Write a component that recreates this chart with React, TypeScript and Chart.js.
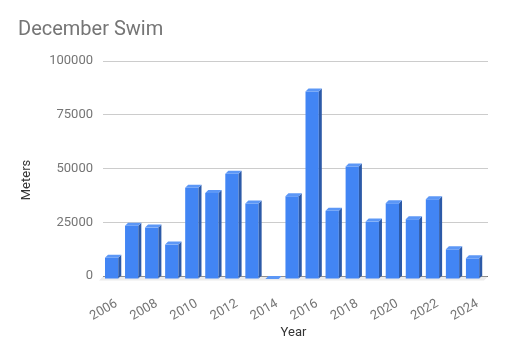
import { useEffect, useRef } from 'react';
import { Chart, registerables } from 'chart.js';

Chart.register(...registerables);

const chartTitle = 'December Swim';
const xAxisTitle = 'Year';
const yAxisTitle = 'Meters';
const years = ['2006', '2007', '2008', '2009', '2010', '2011', '2012', '2013', '2014', '2015', '2016', '2017', '2018', '2019', '2020', '2021', '2022', '2023', '2024'];
const meters = [9900, 24800, 23900, 16000, 42400, 40000, 48900, 35100, 0, 38500, 87200, 31800, 52300, 26700, 35200, 27800, 37100, 13800, 9600];
const yTickValues = [0, 25000, 50000, 75000, 100000];

const FRONT = '#4285f4';
const SIDE = '#2c5aa8';
const TOP = '#5c97f6';
const DEPTH = 3;
const SHIFT_X = -1.4;
const SHIFT_Y = 3;
const GRID_EXTRA = 4;

const alignPx = (p: number) => Math.round(p - 0.5) + 0.5;

const bar3d = {
  id: 'bar3d',
  beforeDatasetsDraw(chart: any) {
    const { ctx, chartArea } = chart;
    const yScale = chart.scales.y;
    ctx.save();
    // extend the horizontal grid lines to the back wall's right edge
    ctx.lineWidth = 1;
    yTickValues.forEach((v) => {
      const py = alignPx(yScale.getPixelForValue(v));
      ctx.strokeStyle = v === 0 ? '#333333' : '#cccccc';
      ctx.beginPath();
      ctx.moveTo(chartArea.right, py);
      ctx.lineTo(chartArea.right + GRID_EXTRA, py);
      ctx.stroke();
    });
    // floor shadow
    ctx.fillStyle = '#ececec';
    ctx.beginPath();
    ctx.moveTo(chartArea.left, chartArea.bottom + 0.5);
    ctx.lineTo(chartArea.right + GRID_EXTRA, chartArea.bottom + 0.5);
    ctx.lineTo(chartArea.right + GRID_EXTRA - 4, chartArea.bottom + 4.5);
    ctx.lineTo(chartArea.left - 4, chartArea.bottom + 4.5);
    ctx.closePath();
    ctx.fill();
    ctx.restore();
    ctx.save();
    ctx.translate(SHIFT_X, SHIFT_Y);
  },
  afterDatasetsDraw(chart: any) {
    const { ctx } = chart;
    const meta = chart.getDatasetMeta(0);
    meta.data.forEach((el: any) => {
      const { x, y, base, width } = el.getProps(['x', 'y', 'base', 'width'], true);
      const l = x - width / 2;
      const r = x + width / 2;
      ctx.fillStyle = SIDE;
      ctx.beginPath();
      ctx.moveTo(r, y);
      ctx.lineTo(r + DEPTH, y - DEPTH);
      ctx.lineTo(r + DEPTH, base - DEPTH);
      ctx.lineTo(r, base);
      ctx.closePath();
      ctx.fill();
      ctx.fillStyle = TOP;
      ctx.beginPath();
      ctx.moveTo(l, y);
      ctx.lineTo(l + DEPTH, y - DEPTH);
      ctx.lineTo(r + DEPTH, y - DEPTH);
      ctx.lineTo(r, y);
      ctx.closePath();
      ctx.fill();
    });
    ctx.restore();
  },
  afterDraw(chart: any) {
    const { ctx } = chart;
    ctx.save();
    ctx.translate(27, 180);
    ctx.rotate(-Math.PI / 2);
    ctx.font = '13px Roboto';
    ctx.fillStyle = '#333333';
    ctx.textAlign = 'center';
    ctx.textBaseline = 'middle';
    ctx.fillText(yAxisTitle, 0, 0);
    ctx.restore();
  },
};

export default function App() {
  const ref = useRef<HTMLCanvasElement | null>(null);

  useEffect(() => {
    document.body.style.margin = '0';
    if (!ref.current) return;
    const chart = new Chart(ref.current, {
      type: 'bar',
      data: {
        labels: years,
        datasets: [
          {
            label: yAxisTitle,
            data: meters,
            backgroundColor: FRONT,
            borderWidth: 0,
            barPercentage: 0.663,
            categoryPercentage: 1,
            clip: false as any,
          },
        ],
      },
      options: {
        responsive: false,
        animation: false,
        layout: { padding: { left: 18, right: 21, top: 0, bottom: 0 } },
        plugins: {
          legend: { display: false },
          tooltip: { enabled: false },
          title: {
            display: true,
            text: chartTitle,
            align: 'start',
            color: '#757575',
            font: { family: 'Roboto', size: 20, weight: 'normal' },
            padding: { top: 18, bottom: 19 },
          },
        },
        scales: {
          x: {
            grid: { display: false },
            border: { display: false },
            ticks: {
              autoSkip: false,
              minRotation: 30,
              maxRotation: 30,
              padding: 12,
              labelOffset: 3.5,
              color: '#757575',
              font: { family: 'Roboto', size: 13 },
              callback: (_v: any, i: number) => (i % 2 === 0 ? years[i] : ''),
            },
            title: {
              display: true,
              text: xAxisTitle,
              color: '#333333',
              font: { family: 'Roboto', size: 13 },
              padding: { top: 4, bottom: 18 },
            },
            afterFit: (s: any) => {
              s.height = 83;
            },
          },
          y: {
            min: 0,
            max: 100000,
            border: { display: false },
            grid: {
              drawTicks: false,
              color: (c: any) => (c.tick && c.tick.value === 0 ? '#333333' : '#cccccc'),
            },
            afterBuildTicks: (s: any) => {
              s.ticks = yTickValues.map((v) => ({ value: v }));
            },
            ticks: {
              padding: 10,
              color: '#757575',
              font: { family: 'Roboto', size: 13 },
              callback: (v: any) => String(v),
            },
            afterFit: (s: any) => {
              s.width = 85;
            },
          },
        },
      },
      plugins: [bar3d],
    });
    return () => chart.destroy();
  }, []);

  return <canvas ref={ref} width={505} height={359} style={{ display: 'block', width: 505, height: 359 }} />;
}
